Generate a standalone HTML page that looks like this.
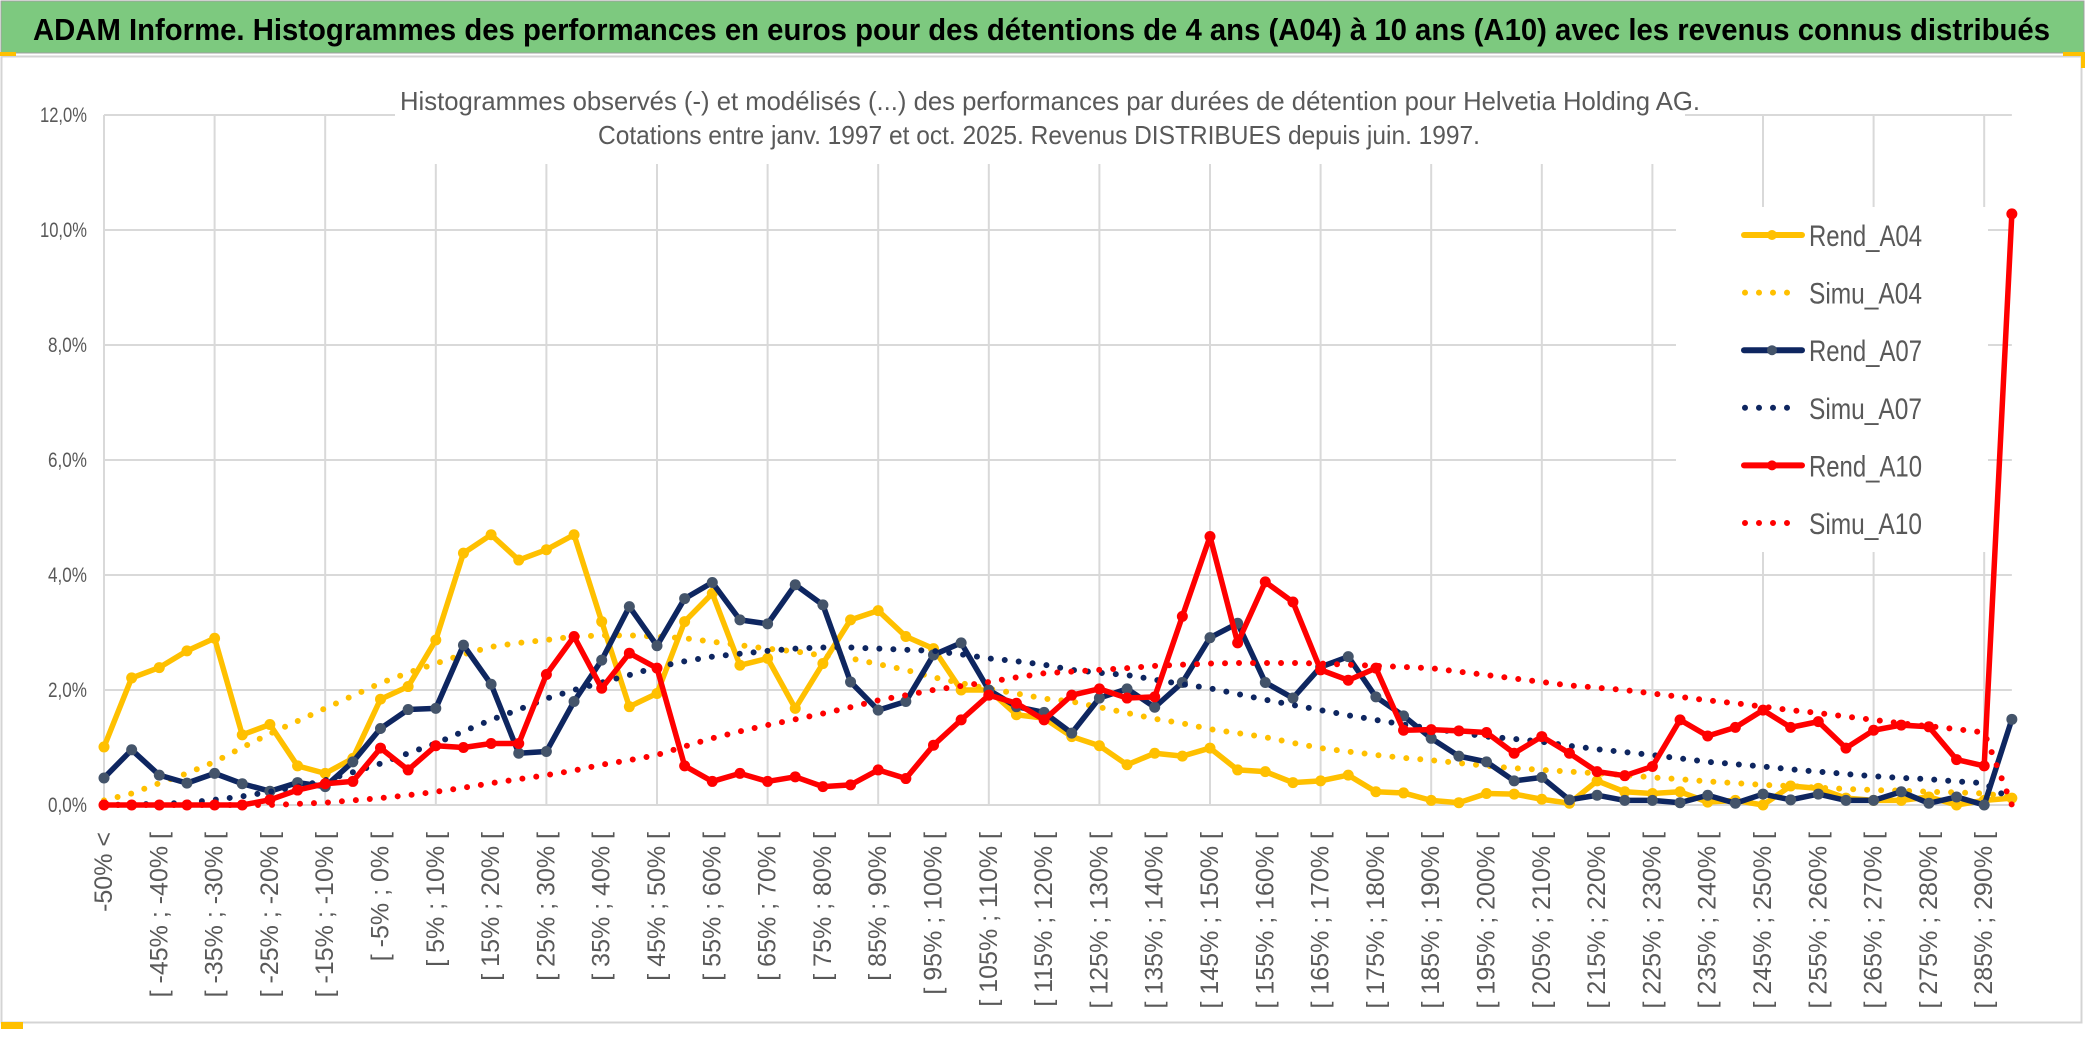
<!DOCTYPE html>
<html><head><meta charset="utf-8"><style>
html,body{margin:0;padding:0;background:#fff;}
body{width:2086px;height:1033px;overflow:hidden;}
svg text{font-family:"Liberation Sans Narrow","Liberation Sans",sans-serif;}
</style></head><body>
<svg id="chart" width="2086" height="1033" xmlns="http://www.w3.org/2000/svg">
<rect x="0" y="0" width="2086" height="1033" fill="#fff"/>
<rect x="1" y="1" width="2083" height="52" fill="#7DC97F" stroke="#a0a0a0" stroke-width="1"/>
<text x="33" y="40" font-size="31" font-weight="bold" fill="#000" textLength="2017" lengthAdjust="spacingAndGlyphs">ADAM Informe. Histogrammes des performances en euros pour des détentions de 4 ans (A04) à 10 ans (A10) avec les revenus connus distribués</text>
<rect x="1.5" y="56.5" width="2080" height="966" fill="#fff" stroke="#d4d4d4" stroke-width="2"/>
<rect x="0" y="52" width="16" height="4" fill="#FFC000"/>
<rect x="2063" y="52" width="20" height="4" fill="#FFC000"/>
<rect x="2081" y="52" width="4" height="16" fill="#FFC000"/>
<rect x="1" y="1022" width="22" height="7" fill="#FFC000"/>
<g id="grid"></g>
<rect x="395" y="80" width="1290" height="84" fill="#fff"/>
<text x="1050" y="110" font-size="26" fill="#595959" text-anchor="middle" textLength="1300" lengthAdjust="spacingAndGlyphs">Histogrammes observés (-) et modélisés (...) des performances par durées de détention pour Helvetia Holding AG.</text>
<text x="1039" y="144" font-size="26" fill="#595959" text-anchor="middle" textLength="882" lengthAdjust="spacingAndGlyphs">Cotations entre janv. 1997 et oct. 2025. Revenus DISTRIBUES depuis juin. 1997.</text>
<g id="yaxis"></g>
<g id="xaxis"></g>
<g id="series"></g>
<g id="legend"></g>
</svg>
<script>
const categories = [];
categories.push("-50% <");
for (let a = -50; a < 295; a += 5) categories.push("[ " + a + "% ; " + (a + 5) + "% [");
const yTicks = [0, 2, 4, 6, 8, 10, 12];
const yTickLabels = ["0,0%", "2,0%", "4,0%", "6,0%", "8,0%", "10,0%", "12,0%"];
const seriesNames = ["Rend_A04", "Simu_A04", "Rend_A07", "Simu_A07", "Rend_A10", "Simu_A10"];
const rendA04 = [1.01,2.21,2.39,2.68,2.90,1.22,1.40,0.68,0.55,0.81,1.84,2.06,2.87,4.38,4.70,4.26,4.44,4.70,3.19,1.71,1.94,3.19,3.68,2.43,2.55,1.68,2.46,3.22,3.38,2.93,2.72,2.0,2.0,1.57,1.51,1.19,1.03,0.70,0.90,0.85,0.99,0.61,0.58,0.39,0.42,0.52,0.23,0.21,0.08,0.04,0.20,0.19,0.10,0.03,0.42,0.23,0.20,0.23,0.05,0.08,0.0,0.33,0.29,0.12,0.08,0.08,0.14,0.0,0.08,0.12];
const simuA04 = [0.08,0.2,0.38,0.55,0.75,1.0,1.24,1.46,1.68,1.9,2.12,2.3,2.46,2.62,2.75,2.82,2.87,2.93,2.95,2.95,2.93,2.9,2.84,2.78,2.72,2.67,2.6,2.55,2.45,2.35,2.22,2.12,2.02,1.94,1.85,1.8,1.7,1.6,1.5,1.42,1.32,1.25,1.18,1.08,0.99,0.93,0.87,0.82,0.78,0.73,0.68,0.64,0.61,0.58,0.55,0.52,0.48,0.45,0.41,0.38,0.35,0.33,0.3,0.28,0.26,0.25,0.23,0.22,0.2,0.14];
const rendA07 = [0.47,0.96,0.52,0.38,0.55,0.37,0.24,0.39,0.32,0.75,1.33,1.66,1.68,2.78,2.10,0.90,0.93,1.80,2.52,3.45,2.77,3.59,3.87,3.22,3.15,3.83,3.48,2.14,1.65,1.80,2.61,2.82,2.0,1.71,1.61,1.25,1.86,2.02,1.70,2.13,2.91,3.16,2.13,1.86,2.40,2.58,1.88,1.55,1.16,0.85,0.75,0.42,0.48,0.09,0.17,0.08,0.08,0.04,0.17,0.03,0.19,0.09,0.19,0.08,0.08,0.23,0.03,0.14,0.0,1.49];
const simuA07 = [0,0.01,0.02,0.04,0.09,0.15,0.23,0.32,0.43,0.57,0.72,0.9,1.07,1.28,1.48,1.66,1.85,2.0,2.13,2.26,2.4,2.5,2.58,2.63,2.68,2.72,2.74,2.74,2.72,2.7,2.68,2.62,2.55,2.5,2.44,2.35,2.3,2.26,2.18,2.1,2.03,1.93,1.83,1.74,1.65,1.56,1.48,1.4,1.33,1.26,1.19,1.15,1.1,1.03,0.97,0.92,0.87,0.81,0.75,0.71,0.67,0.62,0.58,0.54,0.5,0.47,0.45,0.41,0.38,0.09];
const rendA10 = [0,0,0,0,0,0,0.09,0.26,0.37,0.41,0.99,0.61,1.03,1.00,1.07,1.07,2.27,2.93,2.03,2.64,2.38,0.68,0.41,0.55,0.41,0.49,0.32,0.35,0.61,0.46,1.04,1.48,1.91,1.77,1.48,1.91,2.02,1.86,1.88,3.28,4.67,2.82,3.88,3.53,2.35,2.17,2.38,1.30,1.31,1.29,1.26,0.90,1.19,0.90,0.58,0.51,0.67,1.48,1.20,1.35,1.65,1.35,1.45,0.99,1.30,1.39,1.36,0.79,0.68,10.28];
const simuA10 = [0,0,0,0,0,0,0,0.02,0.04,0.08,0.12,0.17,0.23,0.3,0.38,0.45,0.52,0.6,0.7,0.78,0.87,1.02,1.16,1.28,1.39,1.49,1.59,1.7,1.82,1.91,2.0,2.07,2.14,2.22,2.29,2.32,2.35,2.38,2.42,2.44,2.46,2.47,2.47,2.47,2.46,2.44,2.42,2.4,2.38,2.32,2.26,2.2,2.14,2.08,2.04,2.0,1.94,1.88,1.82,1.77,1.71,1.65,1.6,1.54,1.48,1.42,1.37,1.32,1.26,0.0];

const NS = "http://www.w3.org/2000/svg";
const X0 = 104, DX = 27.65, Y0 = 805, PX = 57.5;
function xs(i) { return X0 + i * DX; }
function ys(v) { return Y0 - v * PX; }
function mk(tag, attrs, parent) {
  const e = document.createElementNS(NS, tag);
  for (const k in attrs) e.setAttribute(k, attrs[k]);
  parent.appendChild(e);
  return e;
}
const grid = document.getElementById("grid");
const xEnd = xs(categories.length - 1);
yTicks.forEach(function (t, k) {
  const l = mk("line", {x1: X0, x2: xEnd, y1: ys(t), y2: ys(t), stroke: "#d9d9d9", "stroke-width": 2}, grid);
  
  
});
for (let i = 0; i < categories.length - 1; i += 4) {
  const l = mk("line", {x1: xs(i), x2: xs(i), y1: ys(12), y2: ys(0), stroke: "#d9d9d9", "stroke-width": 2}, grid);
  
  
}
const yaxis = document.getElementById("yaxis");
yTicks.forEach(function (t, k) {
  const lab = yTickLabels[k];
  const tx = mk("text", {x: 87, y: ys(t) + 7, "font-size": 21, fill: "#595959", "text-anchor": "end", textLength: (lab.length === 5 ? 47 : 39), lengthAdjust: "spacingAndGlyphs"}, yaxis);
  tx.textContent = lab;
  
  
});
const xaxis = document.getElementById("xaxis");
for (let i = 0; i < categories.length; i += 2) {
  const x = xs(i) + 8, y = 832;
  const tx = mk("text", {x: x, y: y, "font-size": 25, fill: "#595959", "text-anchor": "end", transform: "rotate(-90 " + x + " " + y + ")", "font-family": "Liberation Sans, sans-serif"}, xaxis);
  tx.textContent = categories[i];
  
  
}
const seriesG = document.getElementById("series");
function drawRend(vals, color, marker, name) {
  const pts = vals.map(function (v, i) { return xs(i) + "," + ys(v); }).join(" ");
  const g = mk("g", {}, seriesG);
  
  
  mk("polyline", {points: pts, fill: "none", stroke: color, "stroke-width": 5.5, "stroke-linejoin": "round"}, g);
  vals.forEach(function (v, i) {
    const c = mk("circle", {cx: xs(i), cy: ys(v), r: 5.5, fill: marker}, g);
    
    
  });
}
function drawSimu(vals, color, name) {
  const pts = vals.map(function (v, i) { return xs(i) + "," + ys(v); }).join(" ");
  const p = mk("polyline", {points: pts, fill: "none", stroke: color, "stroke-width": 6, "stroke-linecap": "round", "stroke-dasharray": "0 14"}, seriesG);
  
  
}
drawRend(rendA04, "#FFC000", "#FFC000", "rend-a04-line");
drawSimu(simuA04, "#FFC000", "simu-a04-line");
drawRend(rendA07, "#0E2660", "#44546A", "rend-a07-line");
drawSimu(simuA07, "#0E2660", "simu-a07-line");
drawRend(rendA10, "#FF0000", "#FF0000", "rend-a10-line");
drawSimu(simuA10, "#FF0000", "simu-a10-line");

const legend = document.getElementById("legend");
const lbg = mk("rect", {x: 1676, y: 207, width: 312, height: 345, fill: "#fff"}, legend);


const legColors = ["#FFC000", "#FFC000", "#0E2660", "#0E2660", "#FF0000", "#FF0000"];
const legMarkers = ["#FFC000", "", "#44546A", "", "#FF0000", ""];
seriesNames.forEach(function (n, k) {
  const y = 235 + k * 57.6;
  const g = mk("g", {}, legend);
  
  
  if (k % 2 === 0) {
    mk("line", {x1: 1744, x2: 1802, y1: y, y2: y, stroke: legColors[k], "stroke-width": 6, "stroke-linecap": "round"}, g);
    mk("circle", {cx: 1772, cy: y, r: 5, fill: legMarkers[k]}, g);
  } else {
    mk("line", {x1: 1745, x2: (k === 5 ? 1799 : 1790), y1: y, y2: y, stroke: legColors[k], "stroke-width": 6, "stroke-linecap": "round", "stroke-dasharray": "0 14"}, g);
  }
  const t = mk("text", {x: 1809, y: y + 11, "font-size": 30, fill: "#595959", textLength: 113, lengthAdjust: "spacingAndGlyphs"}, g);
  t.textContent = n;
});
</script>
</body></html>
